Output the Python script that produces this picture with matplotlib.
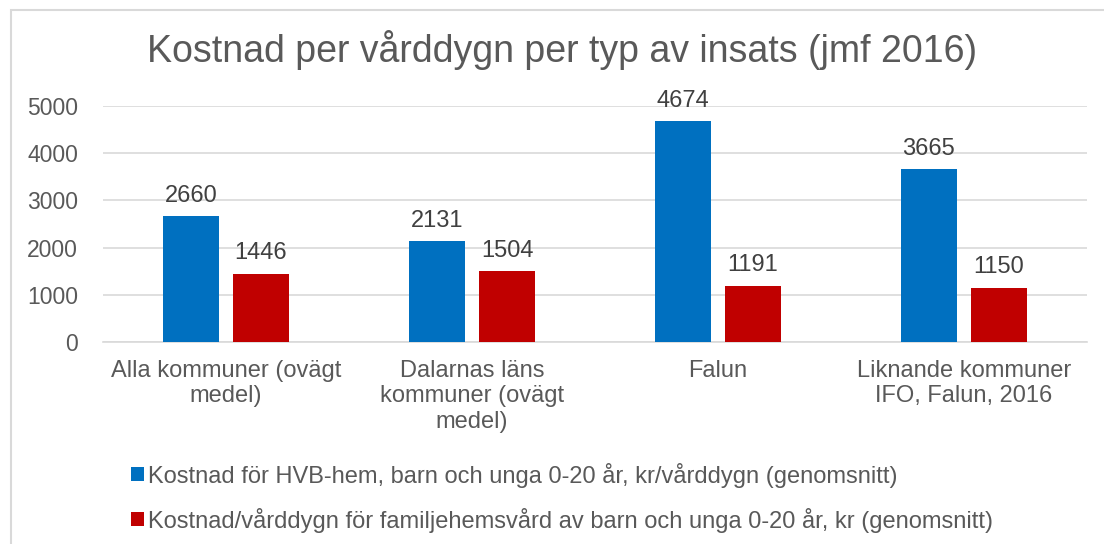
import matplotlib.pyplot as plt
from matplotlib.patches import Rectangle
import numpy as np

plt.rcParams['font.family'] = ['Liberation Sans', 'DejaVu Sans']

kategorier = ['Alla kommuner (ovägt\nmedel)', 'Dalarnas läns\nkommuner (ovägt\nmedel)',
              'Falun', 'Liknande kommuner\nIFO, Falun, 2016']
hvb = [2660, 2131, 4674, 3665]
familjehem = [1446, 1504, 1191, 1150]
serie_namn = ['Kostnad för HVB-hem, barn och unga 0-20 år, kr/vårddygn (genomsnitt)',
              'Kostnad/vårddygn för familjehemsvård av barn och unga 0-20 år, kr (genomsnitt)']

gra = '#595959'
fig = plt.figure(figsize=(11.04, 5.44), dpi=100)
ax = fig.add_axes([103/1104, 1 - 342/544, 984/1104, (342 - 106)/544])

x = np.arange(len(kategorier))
bredd = 0.228
glapp = 0.057
b1 = ax.bar(x - bredd/2 - glapp/2, hvb, width=bredd, color='#0070C0', label=serie_namn[0], zorder=3)
b2 = ax.bar(x + bredd/2 + glapp/2, familjehem, width=bredd, color='#C00000', label=serie_namn[1], zorder=3)

for bars in (b1, b2):
    for b in bars:
        ax.text(b.get_x() + b.get_width()/2, b.get_height() + 200, str(int(b.get_height())),
                ha='center', va='bottom', fontsize=17, color='#404040')

ax.set_xlim(-0.5, len(kategorier) - 0.5)
ax.set_ylim(0, 5000)
ax.set_yticks(range(0, 5001, 1000))
ax.yaxis.grid(True, color='#D9D9D9', linewidth=1.2, zorder=0)
for s in ['top', 'right', 'left']:
    ax.spines[s].set_visible(False)
ax.spines['bottom'].set_color('#D9D9D9')
ax.spines['bottom'].set_linewidth(1.2)
ax.set_xticks(x)
ax.set_xticklabels(kategorier, fontsize=17, color=gra, linespacing=1.2)
ax.tick_params(axis='x', length=0, pad=13)
ax.tick_params(axis='y', length=0, labelsize=16.5, labelcolor=gra, pad=18)

fig.text(562/1104, 1 - 50/544, 'Kostnad per vårddygn per typ av insats (jmf 2016)',
         ha='center', va='center', fontsize=27, color=gra)

fig.legend(handles=[b1, b2], labels=serie_namn, loc='upper left',
           bbox_to_anchor=(114/1104, 1 - 446/544), frameon=False, fontsize=17,
           labelcolor=gra, handlelength=0.55, handleheight=0.55, handletextpad=0.2,
           labelspacing=0.85, borderpad=0.2)

fig.patches.append(Rectangle((11/1104, -0.05), 1.2, 1 - 10/544 + 0.05, transform=fig.transFigure,
                             fill=False, edgecolor='#D9D9D9', linewidth=1.5))

fig.savefig('out.png', dpi=100)
